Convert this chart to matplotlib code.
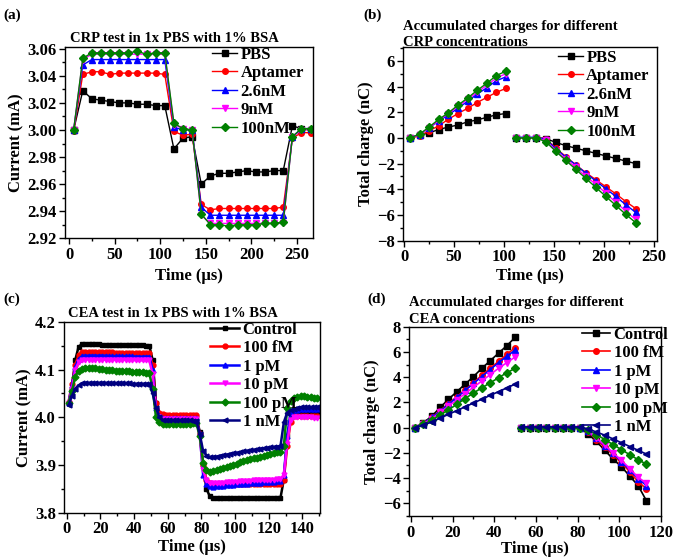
'''CRP / CEA current and accumulated charge panels'''
import matplotlib.pyplot as plt
from matplotlib.ticker import AutoMinorLocator, MultipleLocator

plt.rcParams['font.family'] = ['Liberation Serif', 'DejaVu Serif']
plt.rcParams['font.weight'] = 'bold'
plt.rcParams['axes.labelweight'] = 'bold'

# (a) CRP current ============================================================
t_a = [5, 15, 25, 35, 45, 55, 65, 75, 85, 95, 105, 115, 125, 135, 145, 155,
       165, 175, 185, 195, 205, 215, 225, 235, 245, 255, 265]
crp_labels = ['PBS', 'Aptamer', '2.6nM', '9nM', '100nM']
cur_pbs = [3.000, 3.029, 3.023, 3.022, 3.021, 3.020, 3.020, 3.019, 3.019, 3.018,
           3.018, 2.986, 2.994, 2.995, 2.960, 2.966, 2.968, 2.968, 2.969, 2.970,
           2.969, 2.969, 2.970, 2.970, 3.003, 3.001, 3.000]
cur_apt = [2.999, 3.041, 3.043, 3.043, 3.041, 3.042, 3.042, 3.042, 3.042, 3.042,
           3.041, 2.999, 2.996, 2.997, 2.945, 2.941, 2.942, 2.942, 2.942, 2.942,
           2.942, 2.942, 2.942, 2.943, 2.994, 2.998, 2.998]
cur_26 = [3.000, 3.048, 3.052, 3.052, 3.052, 3.052, 3.052, 3.052, 3.052, 3.052,
          3.052, 3.002, 3.000, 3.000, 2.943, 2.937, 2.937, 2.937, 2.937, 2.937,
          2.937, 2.937, 2.937, 2.937, 2.995, 3.001, 3.001]
cur_9 = [3.000, 3.052, 3.056, 3.056, 3.056, 3.056, 3.056, 3.056, 3.056, 3.056,
         3.056, 3.004, 3.001, 3.000, 2.937, 2.931, 2.931, 2.931, 2.931, 2.931,
         2.931, 2.931, 2.931, 2.931, 2.995, 3.000, 3.000]
cur_100 = [3.000, 3.053, 3.057, 3.057, 3.057, 3.057, 3.057, 3.058, 3.056, 3.057,
           3.057, 3.005, 3.001, 3.000, 2.938, 2.930, 2.930, 2.929, 2.930, 2.930,
           2.930, 2.931, 2.931, 2.932, 2.995, 3.001, 3.001]

# (b) CRP charge =============================================================
t_b1 = [6, 15.6, 25.2, 34.8, 44.4, 54, 63.6, 73.2, 82.8, 92.4, 102]
t_b2 = [112, 122, 132, 142, 152, 162, 172, 182, 192, 202, 212, 222, 232]
q_pbs1 = [0, 0.2, 0.4, 0.65, 0.85, 1.0, 1.25, 1.4, 1.6, 1.8, 1.9]
q_apt1 = [0, 0.15, 0.55, 0.95, 1.45, 1.9, 2.3, 2.75, 3.15, 3.55, 3.85]
q_26_1 = [0, 0.25, 0.8, 1.3, 1.8, 2.3, 2.85, 3.4, 3.9, 4.45, 4.75]
q_9_1 = [0, 0.25, 0.8, 1.35, 1.9, 2.45, 3.0, 3.55, 4.1, 4.65, 5.0]
q_100_1 = [0, 0.3, 0.85, 1.45, 1.95, 2.55, 3.1, 3.7, 4.25, 4.85, 5.2]
q_pbs2 = [0, 0, 0, -0.05, -0.35, -0.6, -0.8, -1.0, -1.2, -1.4, -1.6, -1.8, -2.0]
q_apt2 = [0, 0, 0, -0.05, -0.8, -1.45, -2.1, -2.7, -3.25, -3.8, -4.35, -4.95, -5.5]
q_26_2 = [0.05, 0.05, 0.05, -0.1, -0.85, -1.5, -2.1, -2.75, -3.35, -3.95, -4.55, -5.2, -5.8]
q_9_2 = [0, 0, 0, -0.2, -1.0, -1.65, -2.3, -3.0, -3.6, -4.3, -5.0, -5.7, -6.35]
q_100_2 = [0, 0, 0, -0.3, -1.05, -1.75, -2.45, -3.15, -3.85, -4.55, -5.25, -5.95, -6.6]

# (c) CEA current ============================================================
t_c = [1, 3, 5, 7, 9, 11, 13, 15, 17, 19, 21, 23, 25, 27, 29, 31, 33, 35, 37,
       39, 41, 43, 45, 47, 49, 51, 53, 55, 57, 59, 61, 63, 65, 67, 69, 71, 73,
       75, 77, 79, 81, 83, 85, 87, 89, 91, 93, 95, 97, 99, 101, 103, 105, 107,
       109, 111, 113, 115, 117, 119, 121, 123, 125, 127, 129, 131, 133, 135,
       137, 139, 141, 143, 145, 147, 149]
cea_labels = ['Control', '100 fM', '1 pM', '10 pM', '100 pM', '1 nM']
c_ctrl = [4.030, 4.060, 4.120, 4.148,
          4.153, 4.153, 4.153, 4.153, 4.153, 4.153, 4.152, 4.152, 4.152, 4.152, 4.152,
          4.152, 4.152, 4.152, 4.151, 4.151, 4.151, 4.151, 4.151, 4.150, 4.150,
          4.120, 4.030, 4.006,
          4.003, 4.003, 4.002, 4.002, 4.002, 4.002, 4.002, 4.002, 4.002, 4.001, 4.001,
          3.970, 3.900, 3.850, 3.835,
          3.832, 3.831, 3.831, 3.831, 3.831, 3.831, 3.831, 3.831, 3.831, 3.831, 3.832,
          3.832, 3.832, 3.832, 3.832, 3.832, 3.832, 3.832, 3.832, 3.832, 3.832,
          3.870, 3.960, 4.000,
          4.005, 4.006, 4.006, 4.006, 4.006, 4.006, 4.006, 4.006]
c_100f = [4.032, 4.070, 4.110, 4.130,
          4.136, 4.137, 4.137, 4.137, 4.136, 4.136, 4.136, 4.136, 4.136, 4.136, 4.135,
          4.135, 4.135, 4.135, 4.135, 4.135, 4.135, 4.135, 4.134, 4.134, 4.134,
          4.110, 4.030, 4.010,
          4.006, 4.005, 4.005, 4.005, 4.005, 4.005, 4.005, 4.005, 4.005, 4.005, 4.004,
          3.965, 3.900, 3.870, 3.862,
          3.861, 3.860, 3.860, 3.860, 3.860, 3.860, 3.860, 3.860, 3.860, 3.860, 3.860,
          3.860, 3.860, 3.860, 3.860, 3.860, 3.860, 3.860, 3.860, 3.860, 3.860,
          3.870, 3.940, 3.990,
          4.002, 4.003, 4.003, 4.003, 4.003, 4.003, 4.003, 4.003]
c_1p = [4.030, 4.068, 4.105, 4.122,
        4.128, 4.129, 4.129, 4.129, 4.129, 4.129, 4.129, 4.129, 4.128, 4.128, 4.128,
        4.128, 4.128, 4.128, 4.128, 4.128, 4.127, 4.127, 4.127, 4.127, 4.127,
        4.100, 4.020, 4.003,
        3.999, 3.998, 3.998, 3.998, 3.998, 3.998, 3.998, 3.998, 3.998, 3.998, 3.998,
        3.965, 3.880, 3.860, 3.856,
        3.855, 3.856, 3.857, 3.857, 3.858, 3.859, 3.859, 3.860, 3.860, 3.861, 3.861,
        3.862, 3.862, 3.863, 3.863, 3.864, 3.864, 3.865, 3.865, 3.866, 3.866,
        3.880, 3.960, 4.010,
        4.015, 4.016, 4.017, 4.017, 4.017, 4.017, 4.017, 4.017]
c_10p = [4.030, 4.060, 4.100, 4.115,
         4.120, 4.121, 4.121, 4.121, 4.121, 4.121, 4.121, 4.120, 4.120, 4.120, 4.120,
         4.120, 4.120, 4.120, 4.120, 4.120, 4.119, 4.119, 4.119, 4.119, 4.119,
         4.090, 4.015, 4.000,
         3.997, 3.996, 3.996, 3.996, 3.996, 3.996, 3.996, 3.996, 3.996, 3.996, 3.996,
         3.960, 3.890, 3.868, 3.862,
         3.862, 3.862, 3.863, 3.863, 3.864, 3.864, 3.865, 3.865, 3.866, 3.866, 3.867,
         3.867, 3.868, 3.868, 3.869, 3.869, 3.870, 3.870, 3.870, 3.871, 3.871,
         3.880, 3.945, 3.995,
         4.000, 4.000, 4.000, 4.000, 4.000, 4.000, 3.999, 3.999]
c_100p = [4.030, 4.055, 4.085, 4.098,
          4.102, 4.104, 4.104, 4.104, 4.103, 4.102, 4.101, 4.100, 4.099, 4.099, 4.098,
          4.097, 4.097, 4.096, 4.096, 4.095, 4.095, 4.094, 4.094, 4.093, 4.093,
          4.060, 4.000, 3.990,
          3.987, 3.986, 3.986, 3.986, 3.986, 3.987, 3.987, 3.987, 3.987, 3.988, 3.988,
          3.960, 3.905, 3.890, 3.886,
          3.887, 3.889, 3.892, 3.894, 3.897, 3.899, 3.901, 3.903, 3.906, 3.908, 3.910,
          3.912, 3.914, 3.916, 3.918, 3.920, 3.922, 3.924, 3.925, 3.927, 3.928,
          3.940, 4.020, 4.035,
          4.040, 4.043, 4.044, 4.044, 4.043, 4.042, 4.041, 4.041]
c_1n = [4.025, 4.045, 4.060, 4.067,
        4.071, 4.072, 4.072, 4.072, 4.072, 4.072, 4.072, 4.072, 4.071, 4.071, 4.071,
        4.071, 4.071, 4.071, 4.071, 4.070, 4.070, 4.070, 4.070, 4.070, 4.070,
        4.050, 4.020, 4.000,
        3.995, 3.994, 3.994, 3.994, 3.994, 3.994, 3.994, 3.994, 3.994, 3.993, 3.993,
        3.965, 3.930, 3.920, 3.917,
        3.917, 3.918, 3.920, 3.921, 3.922, 3.924, 3.925, 3.926, 3.927, 3.929, 3.930,
        3.931, 3.932, 3.933, 3.934, 3.935, 3.936, 3.937, 3.938, 3.939, 3.940,
        3.990, 4.010, 4.015,
        4.018, 4.020, 4.021, 4.021, 4.021, 4.021, 4.021, 4.021]

# (d) CEA charge =============================================================
t_d1 = [2, 6, 10, 14, 18, 22, 26, 30, 34, 38, 42, 46, 50]
t_d2 = [53, 57, 61, 65, 69, 73, 77, 81, 85, 89, 93, 97, 101, 105, 109, 113]
d_ctrl1 = [0, 0.4, 0.9, 1.6, 2.25, 2.85, 3.45, 4.05, 4.7, 5.3, 5.9, 6.5, 7.15]
d_100f1 = [0, 0.35, 0.8, 1.35, 1.9, 2.45, 3.0, 3.55, 4.15, 4.7, 5.25, 5.8, 6.35]
d_1p1 = [0, 0.35, 0.8, 1.3, 1.85, 2.4, 2.95, 3.5, 4.05, 4.6, 5.15, 5.65, 6.15]
d_10p1 = [0, 0.3, 0.7, 1.2, 1.7, 2.2, 2.7, 3.2, 3.7, 4.2, 4.7, 5.15, 5.6]
d_100p1 = [0, 0.25, 0.6, 1.0, 1.4, 1.85, 2.3, 2.75, 3.15, 3.55, 3.95, 4.35, 4.7]
d_1n1 = [0, 0.2, 0.45, 0.75, 1.05, 1.35, 1.65, 1.95, 2.25, 2.55, 2.85, 3.15, 3.45]
d_ctrl2 = [0, 0, 0, 0, 0, 0, 0, -0.02, -0.5, -1.1, -1.8, -2.5, -3.1, -3.85, -4.6, -5.8]
d_100f2 = [0, 0, 0, 0, 0, 0, 0, -0.02, -0.35, -0.95, -1.55, -2.15, -2.8, -3.5, -4.3, -4.85]
d_1p2 = [0.05, 0.05, 0.05, 0.05, 0.05, 0.05, 0.05, 0, -0.3, -0.85, -1.45, -2.05, -2.7, -3.35, -4.05, -4.6]
d_10p2 = [0, 0, 0, 0, 0, 0, 0, -0.02, -0.3, -0.85, -1.4, -2.0, -2.6, -3.25, -3.95, -4.4]
d_100p2 = [0, 0, 0, 0, 0, 0, 0, 0, -0.2, -0.55, -0.95, -1.35, -1.75, -2.15, -2.55, -2.9]
d_1n2 = [0.05, 0.05, 0.05, 0.05, 0.05, 0.05, 0.05, 0.05, -0.1, -0.35, -0.6, -0.9, -1.2, -1.5, -1.8, -2.1]

# estilos
crp_colors = ['black', 'red', 'blue', '#FF00FF', '#008000']
crp_markers = ['s', 'o', '^', 'v', 'D']
cea_colors = ['black', 'red', 'blue', '#FF00FF', '#008000', '#000080']
cea_markers = ['s', 'o', '^', 'v', 'D', '<']

FS = 12


def style_axes(ax):
    ax.tick_params(direction='out', length=4, width=1, labelsize=FS, pad=2,
                   top=False, right=False)
    ax.tick_params(which='minor', direction='out', length=2.5, width=1,
                   top=False, right=False)
    ax.xaxis.set_minor_locator(AutoMinorLocator(2))
    ax.yaxis.set_minor_locator(AutoMinorLocator(2))
    for s in ax.spines.values():
        s.set_linewidth(1)
    for lab in ax.get_xticklabels() + ax.get_yticklabels():
        lab.set_fontweight('bold')


def add_legend(ax, x, y, hl, spacing):
    ax.legend(loc='upper left', bbox_to_anchor=(x, y), frameon=False,
              prop={'size': FS, 'weight': 'bold'}, handlelength=hl,
              handletextpad=0.2, borderpad=0, borderaxespad=0,
              labelspacing=spacing, numpoints=1)


fig = plt.figure(figsize=(6.75, 5.6), dpi=100)

# plotagem (a) ================================================================
ax_a = fig.add_axes([0.0963, 0.5745, 0.3679, 0.3421])
for y, lab, c, m in zip([cur_pbs, cur_apt, cur_26, cur_9, cur_100], crp_labels,
                        crp_colors, crp_markers):
    ax_a.plot(t_a, y, color=c, marker=m, ms=4, lw=1, label=lab)
ax_a.set_xlim(-4.5, 268)
ax_a.set_ylim(2.92, 3.0615)
ax_a.xaxis.set_major_locator(MultipleLocator(50))
ax_a.yaxis.set_major_locator(MultipleLocator(0.02))
ax_a.yaxis.set_major_formatter(plt.FormatStrFormatter('%.2f'))
ax_a.set_xlabel('Time (\u00b5s)', fontsize=FS, labelpad=4)
ax_a.set_ylabel('Current (mA)', fontsize=FS, labelpad=2)
ax_a.text(0.02, 1.008, 'CRP test in 1x PBS with 1% BSA', transform=ax_a.transAxes,
          fontsize=10.5, fontweight='bold', ha='left', va='bottom')
style_axes(ax_a)
add_legend(ax_a, 0.592, 1.0, 1.5, 0.15)

# plotagem (b) ================================================================
ax_b = fig.add_axes([0.5975, 0.5702, 0.3754, 0.3464])
for y1, y2, lab, c, m in zip([q_pbs1, q_apt1, q_26_1, q_9_1, q_100_1],
                             [q_pbs2, q_apt2, q_26_2, q_9_2, q_100_2],
                             crp_labels, crp_colors, crp_markers):
    ax_b.plot(t_b1, y1, color=c, marker=m, ms=4, lw=1, label=lab)
    ax_b.plot(t_b2, y2, color=c, marker=m, ms=4, lw=1)
ax_b.set_xlim(-0.7, 253)
ax_b.set_ylim(-8, 7.1)
ax_b.xaxis.set_major_locator(MultipleLocator(50))
ax_b.yaxis.set_major_locator(MultipleLocator(2))
ax_b.set_xlabel('Time (\u00b5s)', fontsize=FS, labelpad=2)
ax_b.set_ylabel('Total charge (nC)', fontsize=FS, labelpad=2)
ax_b.text(0.0, 0.988, 'Accumulated charges for different\nCRP concentrations',
          transform=ax_b.transAxes, fontsize=10.5, fontweight='bold',
          ha='left', va='bottom', linespacing=1.35)
style_axes(ax_b)
add_legend(ax_b, 0.6105, 0.985, 1.5, 0.15)

# plotagem (c) ================================================================
ax_c = fig.add_axes([0.0953, 0.0839, 0.3788, 0.3416])
for y, lab, c, m in zip([c_ctrl, c_100f, c_1p, c_10p, c_100p, c_1n], cea_labels,
                        cea_colors, cea_markers):
    ax_c.plot(t_c, y, color=c, marker=m, ms=3.5, lw=1.8, label=lab)
ax_c.set_xlim(-1.5, 150.5)
ax_c.set_ylim(3.8, 4.2)
ax_c.xaxis.set_major_locator(MultipleLocator(20))
ax_c.yaxis.set_major_locator(MultipleLocator(0.1))
ax_c.yaxis.set_major_formatter(plt.FormatStrFormatter('%.1f'))
ax_c.set_xlabel('Time (\u00b5s)', fontsize=FS, labelpad=1)
ax_c.set_ylabel('Current (mA)', fontsize=FS, labelpad=2)
ax_c.text(0.015, 1.008, 'CEA test in 1x PBS with 1% BSA', transform=ax_c.transAxes,
          fontsize=10.5, fontweight='bold', ha='left', va='bottom')
style_axes(ax_c)
add_legend(ax_c, 0.57, 1.0, 1.75, 0.15)

# plotagem (d) ================================================================
ax_d = fig.add_axes([0.6064, 0.0777, 0.3729, 0.3389])
for y1, y2, lab, c, m in zip([d_ctrl1, d_100f1, d_1p1, d_10p1, d_100p1, d_1n1],
                             [d_ctrl2, d_100f2, d_1p2, d_10p2, d_100p2, d_1n2],
                             cea_labels, cea_colors, cea_markers):
    ax_d.plot(t_d1, y1, color=c, marker=m, ms=4, lw=1.2, label=lab)
    ax_d.plot(t_d2, y2, color=c, marker=m, ms=4, lw=1.2)
ax_d.set_xlim(-0.8, 120)
ax_d.set_ylim(-7.05, 8)
ax_d.xaxis.set_major_locator(MultipleLocator(20))
ax_d.yaxis.set_major_locator(MultipleLocator(2))
ax_d.set_xlabel('Time (\u00b5s)', fontsize=FS, labelpad=0)
ax_d.set_ylabel('Total charge (nC)', fontsize=FS, labelpad=2)
ax_d.text(0.0, 1.005, 'Accumulated charges for different\nCEA concentrations',
          transform=ax_d.transAxes, fontsize=10.5, fontweight='bold',
          ha='left', va='bottom', linespacing=1.35)
style_axes(ax_d)
add_legend(ax_d, 0.686, 1.0, 1.7, 0.15)

# letras dos paineis
for x, y, s in [(0.005, 0.985, '(a)'), (0.538, 0.985, '(b)'),
                (0.005, 0.478, '(c)'), (0.545, 0.478, '(d)')]:
    fig.text(x, y, s, fontsize=11, fontweight='bold', va='top', ha='left')

fig.savefig('out.png', dpi=100)
